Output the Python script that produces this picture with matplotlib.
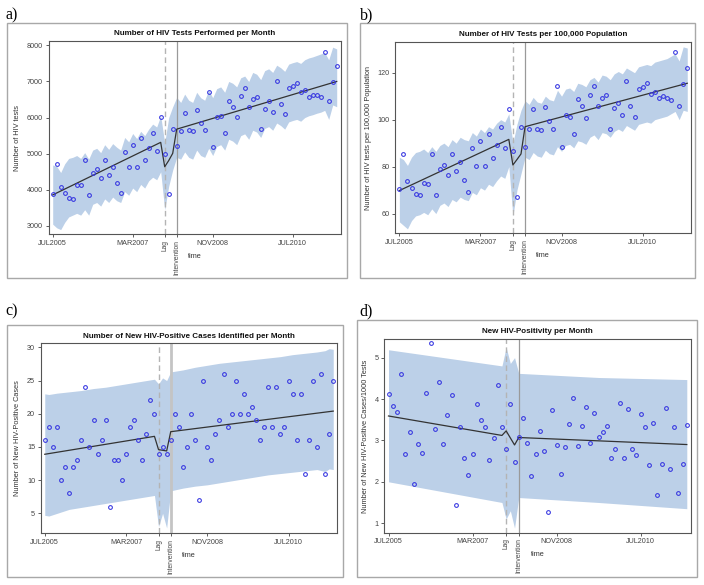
import matplotlib
matplotlib.use("Agg")
import matplotlib.pyplot as plt
from matplotlib.patches import Rectangle

W, H = 704, 585

months = list(range(72))
tick_months = [0, 20, 40, 60]
tick_labels = ["JUL2005", "MAR2007", "NOV2008", "JUL2010"]
lag_month = 28
intervention_month = 31

# a) HIV tests per month
tests_obs = [3895, 4707, 4089, 3922, 3775, 3738, 4144, 4144, 4836, 3850,
             4476, 4587, 4330, 4830, 4420, 4630, 4200, 3922, 5060, 4630,
             5240, 4630, 5445, 4836, 5160, 5583, 5085, 6026, 5000, 3885,
             5694, 5225, 5638, 6137, 5657, 5630, 6200, 5840, 5657, 6718,
             5195, 6007, 6035, 5583, 6470, 6285, 6007, 6600, 6830, 6300,
             6515, 6580, 5694, 6247, 6460, 6155, 7013, 6376, 6110, 6830,
             6884, 6967, 6700, 6765, 6580, 6625, 6625, 6580, 7825, 6450,
             6995, 7430]
tests_upper = [4690, 4650, 4480, 4720, 4870, 4900, 4950, 4870, 5030, 4850,
               5100, 5150, 5030, 5250, 5120, 5280, 5180, 5100, 5450, 5330,
               5560, 5420, 5620, 5500, 5680, 5820, 5740, 6050, 5300, 6000,
               6300, 6560, 6420, 6650, 6480, 6420, 6700, 6550, 6480, 6760,
               6550, 6800, 6850, 6700, 7000, 6950, 6850, 7100, 7150, 7000,
               7250, 7200, 7050, 7300, 7350, 7250, 7450, 7380, 7280, 7480,
               7520, 7550, 7500, 7600, 7650, 7680, 7720, 7760, 7800, 7600,
               7950, 7900]
tests_lower = [3050, 2950, 2900, 3100, 3250, 3300, 3350, 3300, 3450, 3300,
               3600, 3650, 3550, 3750, 3650, 3800, 3700, 3650, 3950, 3850,
               4050, 3950, 4150, 4050, 4250, 4350, 4280, 4500, 3450, 4100,
               4550, 4900, 4850, 5050, 4900, 4850, 5100, 4950, 4900, 5150,
               4950, 5200, 5250, 5100, 5400, 5350, 5250, 5500, 5550, 5400,
               5650, 5600, 5450, 5700, 5750, 5650, 5850, 5780, 5680, 5880,
               5920, 5950, 5900, 6000, 6050, 6080, 6120, 6150, 6200, 5950,
               6350, 6300]
tests_fit_months = [0, 27, 28, 29, 30, 31, 71]
tests_fit = [3860, 5315, 4640, 4810, 5010, 5680, 7000]

# b) HIV tests per 100,000 population
rate_obs = [70.4, 85.4, 73.8, 70.8, 68.5, 68.1, 73.0, 72.8, 85.5, 67.9,
            79.1, 80.9, 76.3, 85.4, 78.0, 82.0, 74.2, 69.4, 87.8, 80.4,
            90.8, 80.4, 94.0, 83.8, 89.4, 96.9, 87.8, 104.4, 86.7, 67.2,
            97.0, 88.5, 96.0, 104.4, 96.2, 95.6, 105.5, 99.3, 96.2, 114.3,
            88.5, 102.1, 101.3, 93.8, 108.7, 105.7, 100.9, 110.6, 114.3, 105.7,
            109.4, 110.5, 95.9, 104.8, 107.0, 102.0, 116.5, 105.8, 101.3, 113.2,
            113.9, 115.5, 111.1, 111.9, 109.1, 110.2, 109.1, 108.2, 128.8, 106.0,
            115.0, 122.1]
rate_upper = [84, 83, 80.5, 84, 86, 86.5, 87.5, 86, 88.5, 86.5,
              89, 90, 88.5, 91.5, 90, 92.5, 91.5, 91, 94.5, 93,
              96, 94.5, 97, 96, 98.5, 100, 99, 102.5, 90, 98,
              104, 108, 106.5, 109.5, 107.5, 107, 110, 108.5, 108, 112.5,
              110, 113, 113.5, 112, 115.5, 115, 114, 117, 118, 116,
              119, 118.5, 117, 119.5, 120.5, 119.5, 122, 121, 120, 122.5,
              123, 123.5, 123, 124.5, 125, 125.5, 126, 127, 128, 125,
              131, 130.5]
rate_lower = [56.5, 55, 53.5, 57, 59, 59.5, 60.5, 59.5, 62, 60,
              63.5, 64.5, 63, 66, 65, 67, 66, 65.5, 69, 68,
              71, 70, 72.5, 71.5, 74, 76, 75, 80, 59, 70,
              77, 84, 83, 86, 84.5, 84, 87, 85.5, 85, 88.5,
              86.5, 89, 89.5, 88, 91, 90.5, 89.5, 92.5, 93.5, 91.5,
              94.5, 94, 92.5, 95, 96, 95, 97.5, 96.5, 95.5, 98,
              98.5, 99, 98.5, 100, 100.5, 101, 101.5, 102.5, 103.5, 100,
              104, 103.5]
rate_fit_months = [0, 27, 28, 29, 30, 31, 71]
rate_fit = [69.8, 91.6, 80.7, 83.0, 85.4, 97.0, 115.5]

# c) new HIV-positive cases per month
cases_obs = [16, 18, 15, 18, 10, 12, 8, 12, 13, 16,
             24, 15, 19, 14, 16, 19, 6, 13, 13, 10,
             14, 18, 19, 16, 13, 17, 22, 20, 14, 15,
             14, 16, 20, 18, 12, 15, 20, 16, 7, 25,
             15, 13, 17, 19, 26, 18, 20, 25, 20, 23,
             20, 21, 19, 16, 18, 24, 18, 24, 17, 18,
             25, 23, 16, 23, 11, 16, 25, 15, 26, 11,
             17, 25]
cases_band_months = [0, 1, 3, 6, 9, 12, 15, 18, 21, 24, 27, 28, 29, 30, 31,
                     34, 37, 40, 43, 46, 49, 52, 55, 58, 61, 64, 67, 69, 70, 71]
cases_upper = [23.0, 22.9, 23.1, 23.3, 23.5, 23.8, 24.0, 24.3, 24.6, 24.9,
               25.2, 24.5, 25.4, 25.0, 26.3, 26.6, 27.0, 27.3, 27.6, 27.8,
               28.0, 28.2, 28.4, 28.6, 28.9, 29.1, 29.3, 29.5, 29.8, 29.7]
cases_lower = [4.7, 4.6, 5.0, 5.6, 5.9, 6.2, 6.5, 6.8, 7.1, 7.4,
               7.7, 3.0, 5.0, 2.8, 8.4, 8.8, 9.1, 9.3, 9.6, 9.9,
               10.2, 10.5, 10.8, 11.0, 11.2, 11.4, 11.6, 11.3, 11.7, 11.6]
cases_fit_months = [0, 27, 28, 29, 30, 31, 71]
cases_fit = [13.9, 16.6, 14.6, 14.5, 14.4, 17.3, 20.4]

# d) new HIV-positivity per month
pos_obs = [4.12, 3.84, 3.68, 4.60, 2.66, 3.21, 1.95, 2.92, 2.69, 4.15,
           5.36, 3.27, 4.41, 2.91, 3.62, 4.10, 1.44, 3.32, 2.57, 2.17,
           2.68, 3.89, 3.50, 3.33, 2.53, 3.06, 4.35, 3.33, 2.80, 3.88,
           2.47, 3.08, 3.55, 2.94, 2.13, 2.68, 3.23, 2.75, 1.26, 3.73,
           2.90, 2.19, 2.84, 3.40, 4.02, 2.87, 3.34, 3.80, 2.94, 3.66,
           3.08, 3.20, 3.34, 2.58, 2.80, 3.91, 2.58, 3.77, 2.80, 2.65,
           3.64, 3.32, 2.41, 3.43, 1.69, 2.42, 3.79, 2.30, 3.33, 1.73,
           2.44, 3.38]
pos_band_months = [0, 27, 28, 29, 30, 31, 50, 71]
pos_upper = [5.19, 4.80, 5.25, 4.86, 5.00, 4.62, 4.52, 4.47]
pos_lower = [2.00, 1.50, 1.10, 1.30, 0.88, 1.62, 1.50, 1.35]
pos_fit_months = [0, 27, 28, 29, 30, 31, 71]
pos_fit = [3.59, 3.12, 3.23, 3.06, 2.89, 3.07, 2.90]

BAND = "#bcd0e8"
DOT = "#3434e0"

plt.rcParams["font.family"] = ["Liberation Sans", "DejaVu Sans"]

fig = plt.figure(figsize=(W / 100, H / 100), dpi=100)


def px_rect(left, top, right, bottom):
    return [left / W, 1 - bottom / H, (right - left) / W, (bottom - top) / H]


def draw_panel(letter, frame, box, title, ylabel, title_y, letter_xy,
               band_x, upper, lower, obs, fit_x, fit, ylim, yticks,
               thick_int=False):
    fx0, fy0, fx1, fy1 = frame
    fig.patches.append(Rectangle((fx0 / W, 1 - fy1 / H), (fx1 - fx0) / W,
                                 (fy1 - fy0) / H, transform=fig.transFigure,
                                 fill=False, edgecolor="#a8a8a8", linewidth=1.0))
    fig.text(letter_xy[0] / W, 1 - letter_xy[1] / H, letter,
             family="Liberation Serif", fontsize=11.5, va="center", ha="left")

    ax = fig.add_axes(px_rect(*box))
    ax.fill_between(band_x, lower, upper, color=BAND, linewidth=0, zorder=1)
    ax.axvline(lag_month, color="#b4b4b4", linestyle=(0, (4, 2.5)),
               linewidth=1.0, zorder=2)
    if thick_int:
        ax.axvline(intervention_month, color="#c4c4c4", linewidth=2.0, zorder=2)
    else:
        ax.axvline(intervention_month, color="#9a9a9a", linewidth=0.9, zorder=2)
    ax.plot(fit_x, fit, color="#333333", linewidth=0.9, zorder=3)
    ax.plot(months, obs, linestyle="none", marker="o", markersize=2.7,
            markerfacecolor="none", markeredgecolor=DOT, markeredgewidth=0.75,
            zorder=4)

    ax.set_xlim(-1, 72)
    ax.set_ylim(*ylim)
    ax.set_yticks(yticks)
    ax.set_xticks(tick_months + [lag_month, intervention_month])
    ax.set_xticklabels(tick_labels + ["Lag", "Intervention"])
    ax.tick_params(labelsize=5.2, length=2.5, width=0.6, colors="#444444",
                   pad=1.5)
    for lbl in ax.get_xticklabels()[4:]:
        lbl.set_rotation(90)
        lbl.set_va("top")
        lbl.set_fontsize(4.8)
    for s in ax.spines.values():
        s.set_color("#555555")
        s.set_linewidth(0.8)
    ax.set_xlabel("time", fontsize=5.3, color="#333333")
    ax.xaxis.set_label_coords(0.5, -0.115)
    ax.xaxis.label.set_va("center")
    ax.set_ylabel(ylabel, fontsize=5.3, color="#333333", labelpad=4)
    cx = (box[0] + box[2]) / 2
    fig.text(cx / W, 1 - title_y / H, title, fontsize=5.8, fontweight="bold",
             ha="center", va="center", color="#111111")
    return ax


draw_panel("a)", (7, 23, 347, 278), (48.7, 41, 340.7, 234.3),
           "Number of HIV Tests Performed per Month", "Number of HIV tests",
           33.7, (5, 15), months, tests_upper, tests_lower, tests_obs,
           tests_fit_months, tests_fit, (2770, 8120),
           [3000, 4000, 5000, 6000, 7000, 8000])

draw_panel("b)", (360, 23, 695, 278), (395.3, 41.7, 691.3, 233.3),
           "Number of HIV Tests per 100,000 Population",
           "Number of HIV tests per 100,000 Population",
           34, (360, 15), months, rate_upper, rate_lower, rate_obs,
           rate_fit_months, rate_fit, (51.6, 133.2), [60, 80, 100, 120])

draw_panel("c)", (7, 325, 343, 577), (40.7, 342.7, 337.3, 533.3),
           "Number of New HIV-Positive Cases Identified per Month",
           "Number of New HIV-Positive Cases",
           336, (5, 311.7), cases_band_months, cases_upper, cases_lower,
           cases_obs, cases_fit_months, cases_fit, (2.0, 30.7),
           [5, 10, 15, 20, 25, 30], thick_int=True)

draw_panel("d)", (357, 320, 697, 577), (384.3, 339, 691, 532.7),
           "New HIV-Positivity per Month",
           "Number of New HIV-Positive Cases/1000 Tests",
           331.7, (359, 311.7), pos_band_months, pos_upper, pos_lower,
           pos_obs, pos_fit_months, pos_fit, (0.77, 5.45), [1, 2, 3, 4, 5])

fig.savefig("out.png", dpi=100)
